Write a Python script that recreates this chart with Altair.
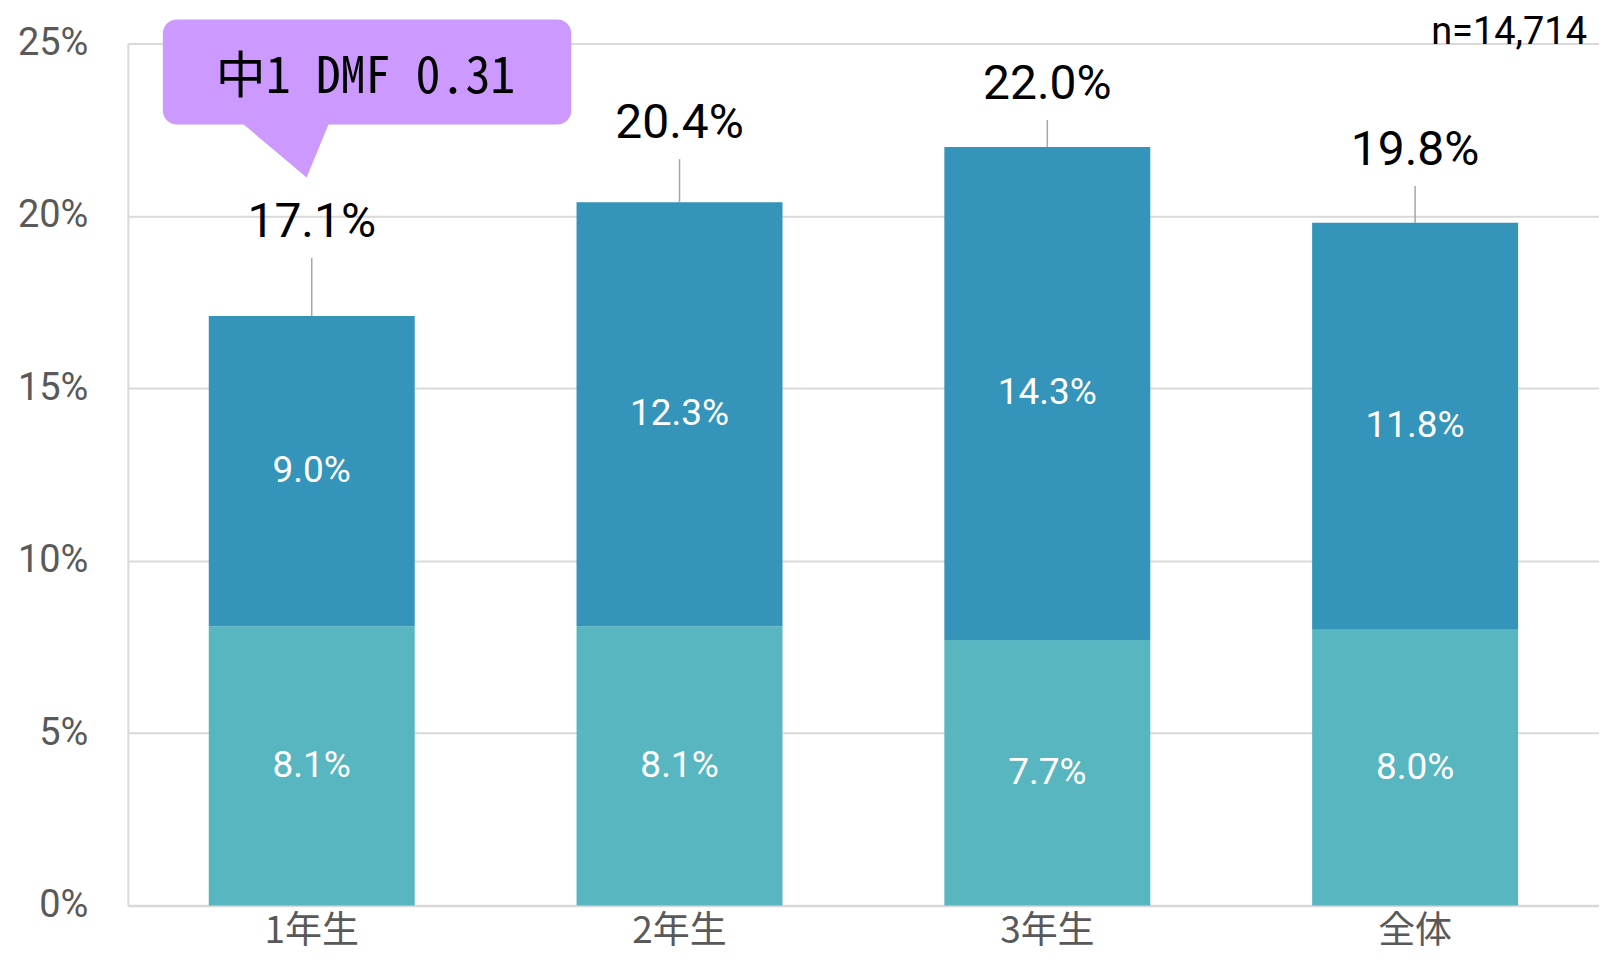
import altair as alt
import pandas as pd

# ---------------- data ----------------
categories = ["1年生", "2年生", "3年生", "全体"]
lower_values = [8.1, 8.1, 7.7, 8.0]
upper_values = [9.0, 12.3, 14.3, 11.8]
totals = [17.1, 20.4, 22.0, 19.8]
y_ticks = [0, 5, 10, 15, 20, 25]
sample_note = "n=14,714"
callout_text = "中1 DMF 0.31"

# ---------------- layout ----------------
W, H = 1473, 863
YMAX = 25
PX_PER_UNIT = H / YMAX
leader_px = [58, 43, 27, 37]      # leader line lengths above bar tops
label_gap_px = 35                  # leader top -> label centre

C_LOWER = "#58B6C0"
C_UPPER = "#3494BA"
C_CALLOUT = "#CC99FF"
GRID = "#D9D9D9"
NUM_FONT = "Roboto"
JP_FONT = "Noto Sans CJK JP"

seg_df = pd.DataFrame({
    "cat": categories * 2,
    "seg": ["lower"] * len(categories) + ["upper"] * len(categories),
    "order": [0] * len(categories) + [1] * len(categories),
    "value": lower_values + upper_values,
})

tot_df = pd.DataFrame({"cat": categories, "total": totals})
tot_df["leader_top"] = [t + l / PX_PER_UNIT for t, l in zip(totals, leader_px)]
tot_df["label_y"] = [t + (l + label_gap_px) / PX_PER_UNIT for t, l in zip(totals, leader_px)]
tot_df["label"] = [f"{t:.1f}%" for t in totals]

x_enc = alt.X(
    "cat:N",
    sort=categories,
    scale=alt.Scale(paddingInner=0.44, paddingOuter=0.22),
    axis=alt.Axis(
        title=None, labelAngle=0, ticks=False, domainColor=GRID, domainWidth=2.5,
        labelFont=JP_FONT, labelFontSize=37, labelColor="#595959", labelPadding=8,
        labelBaseline="top", grid=False,
    ),
)
y_scale = alt.Scale(domain=[0, YMAX], nice=False)

bars = alt.Chart(seg_df).mark_bar().encode(
    x=x_enc,
    y=alt.Y(
        "value:Q", stack="zero", scale=y_scale,
        axis=alt.Axis(
            title=None, values=y_ticks, labelExpr="datum.value + '%'", ticks=False,
            grid=True, gridColor=GRID, gridWidth=2, domainColor=GRID, domainWidth=2,
            labelFont=NUM_FONT, labelFontSize=38, labelColor="#595959", labelPadding=40,
        ),
    ),
    color=alt.Color("seg:N", scale=alt.Scale(domain=["lower", "upper"], range=[C_LOWER, C_UPPER]), legend=None),
    order=alt.Order("order:Q"),
)

inner = alt.Chart(seg_df).transform_stack(
    stack="value", groupby=["cat"], sort=[alt.SortField("order", "ascending")], as_=["y0", "y1"]
).transform_calculate(
    mid="(datum.y0 + datum.y1) / 2", lbl="format(datum.value, '.1f') + '%'"
).mark_text(font=NUM_FONT, fontSize=37, color="white", baseline="middle").encode(
    x=alt.X("cat:N", sort=categories),
    y=alt.Y("mid:Q", scale=y_scale),
    text="lbl:N",
)

leaders = alt.Chart(tot_df).mark_rule(color="#A6A6A6", strokeWidth=1.5).encode(
    x=alt.X("cat:N", sort=categories),
    y=alt.Y("total:Q", scale=y_scale),
    y2="leader_top:Q",
)

tot_labels = alt.Chart(tot_df).mark_text(font=NUM_FONT, fontSize=48, color="black", baseline="middle").encode(
    x=alt.X("cat:N", sort=categories),
    y=alt.Y("label_y:Q", scale=y_scale),
    text="label:N",
)

one = alt.Data(values=[{}])

callout_box = alt.Chart(one).mark_rect(color=C_CALLOUT, cornerRadius=14).encode(
    x=alt.value(35), x2=alt.value(444), y=alt.value(-24), y2=alt.value(81),
)
callout_tail = alt.Chart(one).mark_point(
    shape="M -1.01 -0.2 L 1.01 -0.2 L 0.49 1.06 Z", size=10000, filled=True,
    color=C_CALLOUT, opacity=1, strokeWidth=0,
).encode(x=alt.value(154.5), y=alt.value(81))
callout_label = alt.Chart(one).mark_text(
    text=callout_text, font="Noto Sans Mono CJK JP, Noto Sans CJK JP", fontSize=50,
    color="black", align="center", baseline="middle",
).encode(x=alt.value(238), y=alt.value(35))

note = alt.Chart(one).mark_text(
    text=sample_note, font=NUM_FONT, fontSize=38, color="black", align="right", baseline="alphabetic",
).encode(x=alt.value(1461), y=alt.value(0))

chart = alt.layer(
    bars, inner, leaders, tot_labels, callout_box, callout_tail, callout_label, note
).properties(
    width=W, height=H,
    autosize=alt.AutoSizeParams(type="none"),
    padding={"left": 120, "top": 35, "right": 0, "bottom": 51},
).configure_view(strokeWidth=0)

chart.save("out.html", embed_options={"renderer": "svg", "actions": False})
